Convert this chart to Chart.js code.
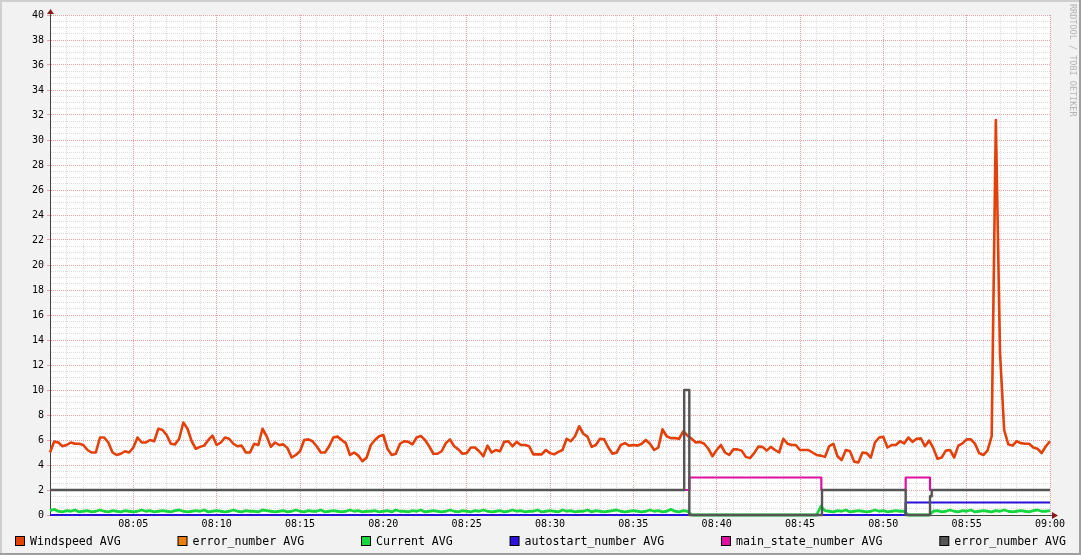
<!DOCTYPE html>
<html>
<head>
<meta charset="utf-8">
<script src="https://cdn.jsdelivr.net/npm/chart.js@4.4.1/dist/chart.umd.min.js"></script>
<style>
  html, body { margin: 0; padding: 0; background: #f2f2f2; }
  canvas { display: block; }
</style>
</head>
<body>
<canvas id="rrdChart" width="1081" height="555"></canvas>
<script>
/****************************** data ********************************/
// x values are minutes after 08:00; Windspeed and Current have one sample every 15 s
const windspeed = [
    5.0, 5.87, 5.8, 5.5, 5.6, 5.8, 5.7, 5.7, 5.6, 5.2, 5.0, 5.0, 6.2, 6.2, 5.8, 5.0, 4.8, 4.9, 5.1, 5.0,
    5.4, 6.2, 5.8, 5.8, 6.0, 5.9, 6.9, 6.8, 6.4, 5.7, 5.65, 6.1, 7.4, 6.9, 5.9, 5.3, 5.45, 5.55, 6.0, 6.35,
    5.6, 5.8, 6.2, 6.1, 5.7, 5.5, 5.55, 5.0, 5.0, 5.7, 5.6, 6.9, 6.3, 5.45, 5.8, 5.6, 5.65, 5.35, 4.6, 4.8,
    5.1, 6.0, 6.05, 5.9, 5.5, 5.0, 5.0, 5.5, 6.2, 6.27, 6.0, 5.75, 4.8, 5.0, 4.75, 4.3, 4.6, 5.6, 6.0, 6.3,
    6.4, 5.3, 4.8, 4.9, 5.7, 5.9, 5.85, 5.65, 6.2, 6.33, 6.0, 5.5, 4.9, 4.9, 5.1, 5.75, 6.05, 5.5, 5.25, 4.9,
    4.95, 5.4, 5.4, 5.1, 4.7, 5.55, 5.0, 5.2, 5.1, 5.85, 5.9, 5.5, 5.85, 5.6, 5.6, 5.5, 4.85, 4.85, 4.85, 5.2,
    4.95, 4.85, 5.05, 5.2, 6.1, 5.9, 6.3, 7.1, 6.5, 6.27, 5.45, 5.6, 6.1, 6.05, 5.4, 4.9, 5.0, 5.6, 5.75, 5.55,
    5.6, 5.55, 5.7, 6.0, 5.7, 5.2, 5.4, 6.85, 6.3, 6.15, 6.15, 6.1, 6.7, 6.35, 6.1, 5.8, 5.85, 5.7, 5.3, 4.7,
    5.2, 5.6, 5.0, 4.8, 5.25, 5.25, 5.15, 4.65, 4.55, 4.95, 5.47, 5.45, 5.15, 5.45, 5.2, 5.0, 6.1, 5.7, 5.6, 5.6,
    5.2, 5.2, 5.2, 5.0, 4.8, 4.75, 4.65, 5.5, 5.7, 4.7, 4.4, 5.2, 5.1, 4.27, 4.2, 5.0, 4.95, 4.6, 5.8, 6.2,
    6.25, 5.4, 5.6, 5.6, 5.9, 5.73, 6.2, 5.85, 6.1, 6.13, 5.5, 5.95, 5.35, 4.5, 4.6, 5.15, 5.2, 4.6, 5.55, 5.73,
    6.05, 6.05, 5.7, 4.95, 4.8, 5.15, 6.3, 31.6, 13, 6.8, 5.65, 5.55, 5.9, 5.75, 5.7, 5.7, 5.4, 5.3, 4.95, 5.5,
    5.9
];
const current = [
    0.35, 0.45, 0.3, 0.25, 0.35, 0.3, 0.4, 0.25, 0.3, 0.35, 0.25, 0.3, 0.4, 0.3, 0.25, 0.35, 0.3, 0.25, 0.35, 0.3,
    0.25, 0.3, 0.4, 0.3, 0.35, 0.25, 0.3, 0.35, 0.3, 0.25, 0.35, 0.4, 0.3, 0.25, 0.3, 0.35, 0.3, 0.4, 0.25, 0.3,
    0.35, 0.3, 0.25, 0.3, 0.4, 0.3, 0.25, 0.35, 0.3, 0.3, 0.25, 0.4, 0.35, 0.3, 0.25, 0.3, 0.35, 0.25, 0.3, 0.4,
    0.3, 0.25, 0.35, 0.3, 0.3, 0.4, 0.25, 0.3, 0.35, 0.3, 0.25, 0.3, 0.4, 0.3, 0.35, 0.25, 0.3, 0.3, 0.35, 0.25,
    0.3, 0.35, 0.25, 0.4, 0.3, 0.3, 0.25, 0.35, 0.3, 0.4, 0.25, 0.3, 0.35, 0.3, 0.25, 0.3, 0.4, 0.3, 0.25, 0.35,
    0.3, 0.25, 0.35, 0.3, 0.4, 0.3, 0.25, 0.3, 0.35, 0.25, 0.3, 0.4, 0.3, 0.35, 0.25, 0.3, 0.3, 0.4, 0.25, 0.3,
    0.35, 0.3, 0.25, 0.4, 0.3, 0.35, 0.25, 0.3, 0.3, 0.4, 0.25, 0.35, 0.3, 0.25, 0.3, 0.35, 0.4, 0.3, 0.25, 0.3,
    0.35, 0.3, 0.25, 0.3, 0.4, 0.3, 0.35, 0.25, 0.3, 0.45, 0.3, 0.25, 0.35, 0.3, 0, 0, 0, 0, 0, 0,
    0, 0, 0, 0, 0, 0, 0, 0, 0, 0, 0, 0, 0, 0, 0, 0, 0, 0, 0, 0,
    0, 0, 0, 0, 0, 0.7, 0.35, 0.3, 0.25, 0.35, 0.3, 0.4, 0.25, 0.3, 0.35, 0.3, 0.25, 0.3, 0.4, 0.3,
    0.35, 0.25, 0.3, 0.35, 0.3, 0.3, 0, 0, 0, 0, 0, 0, 0.3, 0.35, 0.25, 0.3, 0.4, 0.3, 0.25, 0.35,
    0.3, 0.4, 0.25, 0.3, 0.35, 0.3, 0.25, 0.35, 0.3, 0.4, 0.3, 0.25, 0.3, 0.35, 0.3, 0.25, 0.35, 0.4, 0.3, 0.3,
    0.35
];
const sampleMinutes = windspeed.map((_, i) => i * 0.25);

// step series: each value holds from its minute until the next one
const errorMinutes = [0, 38.05, 38.36, 46.32, 51.34, 52.8, 52.9, 60];
const errorNumber = [2, 10, 0, 2, 0, 1.5, 2, 2];
const stateMinutes = [0, 38.36, 46.28, 51.34, 52.8, 60];
const mainState = [2, 3, 2, 3, 2, 2];
const autostartMinutes = [0, 51.34, 60];
const autostartNumber = [0, 1, 1];

const seriesLabels = ["Windspeed AVG", "error_number AVG", "Current AVG",
    "autostart_number AVG", "main_state_number AVG", "error_number AVG"];
const seriesColors = ["#E3400A", "#EA7E10", "#18D640", "#2A10D8", "#DD10A0", "#555555"];
const xTickLabels = ["08:05", "08:10", "08:15", "08:20", "08:25", "08:30",
    "08:35", "08:40", "08:45", "08:50", "08:55", "09:00"];

/****************************** helpers ********************************/
const MONO = '"DejaVu Sans Mono", monospace';
const MAJOR_GRID = "#E6A2A2";
const MINOR_GRID = "#DCDCDC";

function toPoints(xs, ys) {
    return xs.map((x, i) => ({ x: x, y: ys[i] }));
}

// rrdtool look: shaded frame, white canvas, watermark, axis arrows, justified legend
const rrdFrame = {
    id: "rrdFrame",
    beforeDraw(chart) {
        const { ctx, width, height, chartArea: a } = chart;
        ctx.save();
        ctx.fillStyle = "#f2f2f2";
        ctx.fillRect(0, 0, width, height);
        ctx.fillStyle = "#cfcfcf";
        ctx.fillRect(0, 0, width, 2);
        ctx.fillRect(0, 0, 2, height);
        ctx.fillStyle = "#9e9e9e";
        ctx.fillRect(0, height - 2, width, 2);
        ctx.fillRect(width - 2, 0, 2, height);
        ctx.fillStyle = "#ffffff";
        ctx.fillRect(a.left, a.top, a.right - a.left, a.bottom - a.top);

        ctx.translate(width - 9, 4);
        ctx.rotate(Math.PI / 2);
        ctx.font = "8.5px " + MONO;
        ctx.fillStyle = "#b4b4b4";
        ctx.textBaseline = "middle";
        ctx.fillText("RRDTOOL / TOBI OETIKER", 0, 0);
        ctx.restore();
    },
    afterDraw(chart) {
        const { ctx, chartArea: a } = chart;
        ctx.save();
        // axis extensions + arrows
        ctx.strokeStyle = "#444";
        ctx.lineWidth = 1;
        ctx.beginPath();
        ctx.moveTo(a.left + 0.5, a.top);
        ctx.lineTo(a.left + 0.5, a.top - 2);
        ctx.moveTo(a.right, a.bottom + 0.5);
        ctx.lineTo(a.right + 2, a.bottom + 0.5);
        ctx.stroke();
        ctx.fillStyle = "#8b1a1a";
        ctx.beginPath();
        ctx.moveTo(a.left + 0.5, a.top - 6);
        ctx.lineTo(a.left - 3, a.top - 1);
        ctx.lineTo(a.left + 4, a.top - 1);
        ctx.fill();
        ctx.beginPath();
        ctx.moveTo(a.right + 8, a.bottom + 0.5);
        ctx.lineTo(a.right + 2, a.bottom - 3);
        ctx.lineTo(a.right + 2, a.bottom + 4);
        ctx.fill();

        // legend, spread over the width like rrdtool does
        const sets = chart.data.datasets;
        ctx.font = "11.6px " + MONO;
        ctx.textBaseline = "alphabetic";
        const widths = sets.map(d => ctx.measureText(d.label).width);
        const used = widths.reduce((s, w) => s + w + 15, 0);
        const gap = (1051 - used) / (sets.length - 1);
        let x = 15;
        sets.forEach((d, i) => {
            ctx.fillStyle = "#000";
            ctx.fillRect(x, 536, 10, 10);
            ctx.fillStyle = d.borderColor;
            ctx.fillRect(x + 1, 537, 8, 8);
            ctx.fillStyle = "#000";
            ctx.fillText(d.label, x + 15, 545);
            x += 15 + widths[i] + gap;
        });
        ctx.restore();
    }
};

/****************************** chart ********************************/
Chart.defaults.font.family = MONO;

new Chart(document.getElementById("rrdChart"), {
    type: "line",
    data: {
        datasets: [
            { label: seriesLabels[0], data: toPoints(sampleMinutes, windspeed), borderColor: seriesColors[0], borderWidth: 2.6, order: 5 },
            { label: seriesLabels[1], data: toPoints(errorMinutes, errorNumber), borderColor: seriesColors[1], borderWidth: 1.2, stepped: true, order: 4 },
            { label: seriesLabels[2], data: toPoints(sampleMinutes, current), borderColor: seriesColors[2], borderWidth: 2.8, order: 3 },
            { label: seriesLabels[3], data: toPoints(autostartMinutes, autostartNumber), borderColor: seriesColors[3], stepped: true, order: 2 },
            { label: seriesLabels[4], data: toPoints(stateMinutes, mainState), borderColor: seriesColors[4], stepped: true, order: 1 },
            { label: seriesLabels[5], data: toPoints(errorMinutes, errorNumber), borderColor: seriesColors[5], borderWidth: 2.4, stepped: true, order: 0 }
        ]
    },
    options: {
        responsive: false,
        animation: false,
        devicePixelRatio: 1,
        layout: { padding: { top: 15, right: 31, bottom: 0, left: 0 } },
        plugins: { legend: { display: false }, tooltip: { enabled: false } },
        elements: {
            point: { radius: 0 },
            line: { borderWidth: 2.2, tension: 0, fill: false, borderJoinStyle: "round" }
        },
        datasets: { line: { clip: false } },
        scales: {
            x: {
                type: "linear",
                min: 0,
                max: 60,
                afterFit: s => { s.height = 40; s.paddingLeft = 0; s.paddingRight = 0; },
                ticks: {
                    stepSize: 1,
                    autoSkip: false,
                    maxRotation: 0,
                    minRotation: 0,
                    padding: 3,
                    color: "#000",
                    font: { size: 10 },
                    callback: v => (v % 5 === 0 && v > 0) ? xTickLabels[v / 5 - 1] : ""
                },
                grid: {
                    drawTicks: false,
                    lineWidth: 1,
                    color: c => (c.tick && c.tick.value % 5 === 0) ? MAJOR_GRID : MINOR_GRID
                },
                border: { display: true, color: "#444", width: 1, dash: [1, 1] }
            },
            y: {
                min: 0,
                max: 40,
                afterFit: s => { s.width = 50; s.paddingTop = 0; s.paddingBottom = 0; },
                ticks: {
                    stepSize: 0.5,
                    autoSkip: false,
                    padding: 3,
                    color: "#000",
                    font: { size: 10 },
                    callback: v => (v % 2 === 0) ? String(v) : ""
                },
                grid: {
                    drawTicks: true,
                    tickLength: 3,
                    lineWidth: 1,
                    color: c => (c.tick && c.tick.value % 2 === 0) ? MAJOR_GRID : MINOR_GRID,
                    tickColor: c => (c.tick && c.tick.value % 2 === 0) ? MAJOR_GRID : "rgba(0,0,0,0)"
                },
                border: { display: true, color: "#444", width: 1, dash: [1, 1] }
            }
        }
    },
    plugins: [rrdFrame]
});
</script>
</body>
</html>
